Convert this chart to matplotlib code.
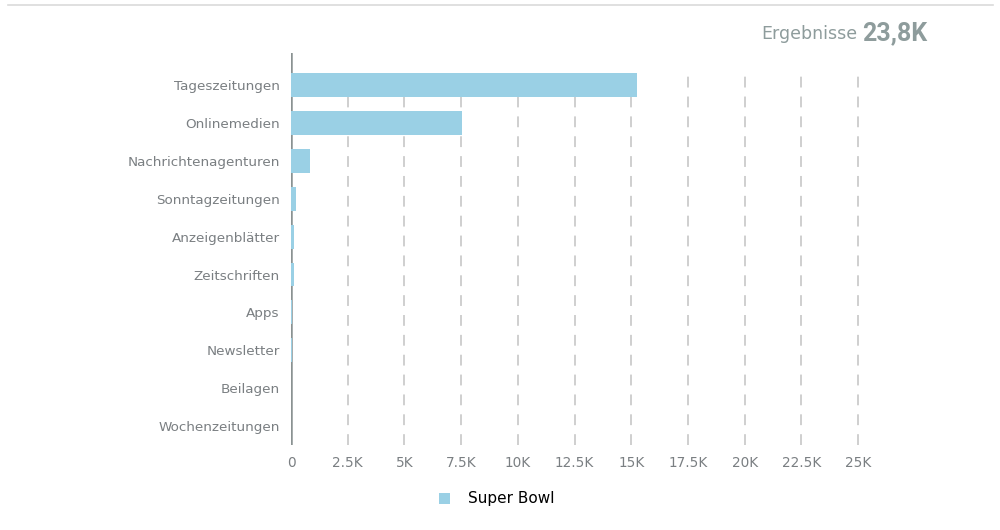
import matplotlib
matplotlib.use("Agg")
import matplotlib.pyplot as plt
from matplotlib.lines import Line2D
from matplotlib.patches import Patch

categories = ["Tageszeitungen", "Onlinemedien", "Nachrichtenagenturen", "Sonntagzeitungen",
              "Anzeigenblätter", "Zeitschriften", "Apps", "Newsletter", "Beilagen", "Wochenzeitungen"]
values = [15250, 7550, 850, 200, 150, 120, 60, 30, 15, 10]
xticks = [0, 2500, 5000, 7500, 10000, 12500, 15000, 17500, 20000, 22500, 25000]
xticklabels = ["0", "2.5K", "5K", "7.5K", "10K", "12.5K", "15K", "17.5K", "20K", "22.5K", "25K"]
series_name = "Super Bowl"
total_label = "23,8K"

W, H = 1000, 530
fig = plt.figure(figsize=(W / 100, H / 100), dpi=100)

bar_color = "#9ad0e5"
label_color = "#7a7f82"

# axes geometry in pixels
left_px, top_px, bottom_px = 291, 53, 445
xmax = 25500
x25_px = 858
width_px = (x25_px - left_px) * xmax / 25000
ax = fig.add_axes([left_px / W, 1 - bottom_px / H, width_px / W, (bottom_px - top_px) / H])

spacing = 37.9
c0 = 85
ymin = (bottom_px - c0) / spacing
ymax = (top_px - c0) / spacing
ax.set_ylim(ymin, ymax)
ax.set_xlim(0, xmax)

ypos = list(range(len(categories)))
bar_h = 0.63
ax.barh(ypos, values, height=bar_h, color=bar_color, zorder=5)

# dashed vertical grid
for t in xticks[1:]:
    ax.vlines(t, ymin, -bar_h / 2, colors="#cccccc", linestyles=(0, (6, 5)), linewidth=1.3, zorder=1)

for s in ax.spines.values():
    s.set_visible(False)
ax.axvline(-20, color="#8a9292", linewidth=1.8, zorder=4)

ax.set_yticks(ypos)
ax.set_yticklabels(categories, fontsize=9.7, color=label_color, family="DejaVu Sans")
ax.set_xticks(xticks)
ax.set_xticklabels(xticklabels, fontsize=9.8, color=label_color, family="DejaVu Sans")
ax.tick_params(axis="y", length=0, pad=8)
ax.tick_params(axis="x", length=0, pad=8)

# header
fig.add_artist(Line2D([8 / W, 993 / W], [1 - 5 / H, 1 - 5 / H], color="#dadada", linewidth=1.2))
fig.text(927 / W, 1 - 33 / H, total_label, ha="right", va="center", fontsize=18,
         fontweight="bold", color="#8e9c9c", family="Roboto")
fig.text(857 / W, 1 - 34 / H, "Ergebnisse", ha="right", va="center", fontsize=12.5,
         color="#8e9c9c", family="DejaVu Sans")

# legend
fig.legend(handles=[Patch(facecolor=bar_color, edgecolor="none", label=series_name)],
           loc="center", bbox_to_anchor=(497 / W, 1 - 499 / H), frameon=False,
           fontsize=11, handlelength=0.7, handleheight=0.7, handletextpad=1.2)

fig.savefig("out.png", dpi=100)
